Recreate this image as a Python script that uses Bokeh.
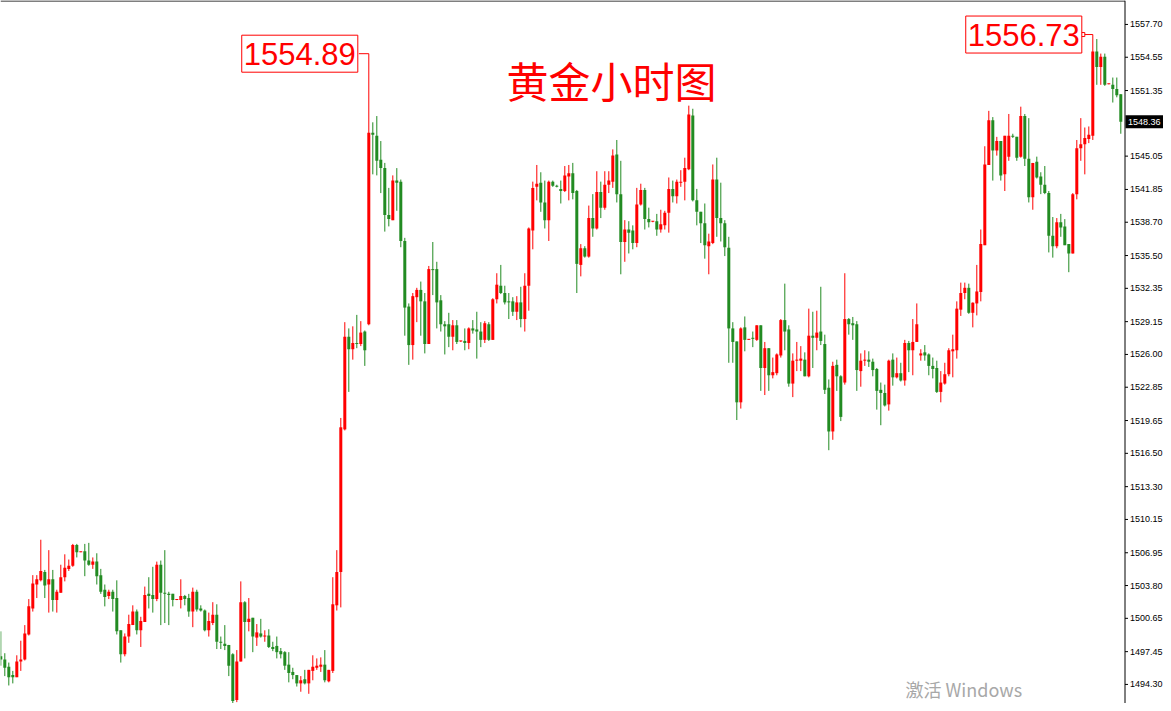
from bokeh.plotting import figure
from bokeh.models import Range1d, Label
from bokeh.core.properties import value
from bokeh.embed import file_html
from bokeh.resources import INLINE

# ---------------- data (hourly gold OHLC) ----------------
opens = [
    1497.0, 1496.7, 1496.0, 1495.2, 1495.0, 1496.5, 1496.7, 1499.1, 1501.6, 1503.9,
    1504.3, 1505.1, 1503.9, 1504.4, 1502.4, 1503.1, 1504.6, 1505.4, 1505.7, 1507.7,
    1507.0, 1507.1, 1506.2, 1505.8, 1506.1, 1504.8, 1503.4, 1502.8, 1503.2, 1502.6,
    1499.5, 1497.2, 1498.9, 1500.0, 1501.3, 1499.5, 1500.3, 1503.0, 1502.9, 1502.5,
    1505.8, 1503.1, 1503.0, 1503.0, 1502.4, 1502.4, 1502.8, 1502.6, 1501.3, 1503.2,
    1501.6, 1501.4, 1499.5, 1500.2, 1501.0, 1498.4, 1498.2, 1498.1, 1497.2, 1492.8,
    1496.5, 1502.2, 1500.3, 1500.7, 1498.8, 1499.2, 1498.9, 1499.0, 1497.9, 1498.0,
    1497.5, 1497.4, 1496.2, 1495.5, 1495.2, 1494.4, 1494.8, 1494.4, 1495.6, 1495.9,
    1496.0, 1496.2, 1494.6, 1495.6, 1501.9, 1505.1, 1518.8, 1527.7, 1526.5, 1527.1,
    1527.0, 1528.2, 1528.9, 1547.3, 1547.0, 1544.7, 1543.9, 1539.4, 1538.9, 1542.7,
    1542.6, 1536.9, 1530.6, 1526.9, 1531.5, 1532.2, 1531.1, 1527.0, 1534.2, 1534.2,
    1531.2, 1528.9, 1528.9, 1527.7, 1528.8, 1527.25, 1527.3, 1527.1, 1528.5, 1528.4,
    1528.2, 1527.4, 1528.9, 1527.4, 1531.3, 1532.6, 1531.9, 1531.1, 1531.1, 1530.1,
    1531.0, 1529.4, 1532.6, 1537.9, 1542.1, 1542.5, 1540.6, 1538.9, 1542.6, 1542.2,
    1541.9, 1541.7, 1543.1, 1543.4, 1541.7, 1534.6, 1536.2, 1535.4, 1539.1, 1538.1,
    1541.6, 1540.1, 1542.3, 1542.6, 1545.2, 1541.4, 1536.8, 1538.0, 1537.9, 1536.7,
    1540.4, 1541.8, 1539.0, 1538.75, 1538.8, 1538.0, 1538.4, 1539.6, 1541.9, 1541.2,
    1542.5, 1542.6, 1543.8, 1548.95, 1540.8, 1539.7, 1538.6, 1536.4, 1536.7, 1542.8,
    1539.1, 1538.6, 1536.25, 1528.5, 1527.25, 1521.4, 1528.6, 1527.4, 1527.6, 1527.4,
    1528.8, 1524.7, 1526.6, 1524.0, 1524.2, 1525.9, 1529.3, 1528.4, 1523.2, 1525.4,
    1525.4, 1525.5, 1523.9, 1527.8, 1527.6, 1528.2, 1527.0, 1522.8, 1518.6, 1525.0,
    1523.9, 1523.3, 1529.4, 1529.0, 1528.9, 1524.4, 1525.4, 1525.5, 1525.3, 1524.6,
    1522.6, 1522.3, 1521.2, 1525.5, 1523.8, 1524.2, 1523.5, 1527.1, 1526.4, 1527.2,
    1525.9, 1526.2, 1526.0, 1524.9, 1524.7, 1522.4, 1523.2, 1524.1, 1526.3, 1526.4,
    1530.3, 1531.9, 1532.4, 1530.0, 1530.9, 1532.0, 1536.5, 1544.2, 1548.5, 1545.6,
    1546.5, 1543.3, 1545.0, 1547.0, 1546.9, 1545.0, 1548.9, 1544.8, 1541.1, 1544.5,
    1543.1, 1542.3, 1541.5, 1537.4, 1536.4, 1538.7, 1538.3, 1536.6, 1535.7, 1541.4,
    1545.8, 1546.2, 1546.7, 1547.0, 1555.1, 1553.6, 1554.6, 1551.95, 1551.9, 1551.5,
    1551.0,
]
highs = [
    1499.4, 1497.3, 1496.4, 1495.6, 1497.1, 1498.5, 1500.0, 1502.5, 1504.8, 1504.8,
    1508.2, 1505.3, 1507.2, 1505.3, 1503.4, 1505.8, 1506.8, 1506.3, 1507.8, 1507.8,
    1507.05, 1507.8, 1507.9, 1506.5, 1506.9, 1505.4, 1503.9, 1503.4, 1503.4, 1504.3,
    1499.5, 1499.2, 1501.0, 1501.9, 1501.5, 1500.8, 1503.7, 1504.6, 1505.6, 1506.1,
    1506.2, 1507.2, 1503.2, 1503.0, 1502.45, 1504.4, 1502.9, 1503.0, 1503.6, 1503.4,
    1501.9, 1501.5, 1501.2, 1502.2, 1502.0, 1498.9, 1500.0, 1498.1, 1497.3, 1497.6,
    1504.2, 1502.3, 1502.6, 1500.7, 1500.1, 1500.6, 1499.5, 1499.6, 1498.4, 1498.9,
    1497.8, 1497.5, 1497.4, 1495.9, 1495.2, 1495.1, 1495.7, 1495.7, 1497.1, 1496.8,
    1496.9, 1497.6, 1495.7, 1504.6, 1507.2, 1519.9, 1529.1, 1528.5, 1528.7, 1529.8,
    1529.2, 1528.3, 1554.89, 1548.3, 1548.9, 1546.5, 1544.4, 1542.0, 1543.2, 1543.9,
    1542.8, 1537.2, 1530.9, 1531.9, 1532.4, 1533.0, 1531.9, 1534.5, 1536.8, 1534.9,
    1531.7, 1529.2, 1530.0, 1529.3, 1529.3, 1527.3, 1528.5, 1528.6, 1529.3, 1530.1,
    1529.1, 1529.2, 1529.1, 1531.4, 1533.8, 1534.6, 1532.6, 1531.9, 1531.5, 1531.6,
    1532.5, 1533.8, 1538.2, 1542.6, 1544.2, 1543.5, 1542.7, 1542.7, 1542.7, 1542.3,
    1542.7, 1544.1, 1544.2, 1544.4, 1541.8, 1536.6, 1536.4, 1540.3, 1541.4, 1543.6,
    1542.6, 1543.6, 1543.6, 1545.7, 1546.6, 1544.6, 1538.9, 1538.8, 1538.4, 1542.0,
    1542.4, 1542.0, 1540.1, 1538.8, 1539.5, 1539.9, 1539.8, 1543.0, 1542.7, 1542.8,
    1543.7, 1544.9, 1549.9, 1549.6, 1541.9, 1539.7, 1540.5, 1537.6, 1544.25, 1544.9,
    1542.5, 1538.9, 1537.3, 1529.1, 1527.25, 1528.6, 1529.65, 1527.45, 1528.2, 1528.8,
    1528.8, 1527.2, 1526.6, 1525.7, 1526.1, 1529.4, 1532.8, 1528.8, 1526.1, 1527.2,
    1526.8, 1526.2, 1530.4, 1530.1, 1530.2, 1532.5, 1527.9, 1523.6, 1525.3, 1525.5,
    1524.0, 1533.8, 1529.5, 1529.6, 1529.2, 1526.1, 1526.4, 1526.3, 1525.6, 1524.7,
    1523.3, 1523.1, 1525.5, 1526.1, 1525.7, 1525.2, 1527.4, 1527.3, 1529.4, 1530.9,
    1526.5, 1526.9, 1526.1, 1525.7, 1525.4, 1524.4, 1525.2, 1526.6, 1527.9, 1531.1,
    1532.9, 1532.9, 1532.8, 1531.0, 1534.6, 1538.0, 1546.0, 1549.4, 1548.8, 1546.9,
    1546.5, 1547.0, 1549.1, 1547.2, 1546.9, 1549.8, 1549.1, 1548.7, 1544.4, 1545.0,
    1543.5, 1544.1, 1541.7, 1539.2, 1539.1, 1539.5, 1539.0, 1536.6, 1541.5, 1546.6,
    1548.7, 1547.8, 1547.9, 1556.73, 1556.3, 1554.9, 1554.9, 1552.0, 1552.6, 1552.6,
    1551.0,
]
lows = [
    1496.1, 1495.1, 1494.2, 1494.4, 1495.0, 1495.6, 1496.6, 1499.0, 1501.3, 1502.6,
    1504.2, 1502.6, 1501.2, 1501.3, 1501.2, 1503.1, 1504.2, 1505.2, 1505.6, 1506.5,
    1507.0, 1504.7, 1505.7, 1505.4, 1503.9, 1503.0, 1501.8, 1502.5, 1501.3, 1499.1,
    1496.4, 1497.0, 1498.3, 1500.0, 1499.1, 1497.9, 1500.3, 1501.6, 1501.2, 1502.3,
    1500.0, 1500.2, 1500.0, 1501.8, 1502.4, 1501.6, 1501.9, 1500.8, 1499.8, 1501.3,
    1501.3, 1499.4, 1498.9, 1500.0, 1497.7, 1497.7, 1497.6, 1495.1, 1492.5, 1492.6,
    1496.5, 1496.8, 1499.4, 1497.4, 1498.0, 1498.8, 1498.4, 1497.8, 1497.5, 1496.8,
    1496.8, 1495.7, 1494.5, 1494.8, 1494.1, 1493.6, 1494.3, 1493.4, 1494.7, 1495.7,
    1495.5, 1494.5, 1494.5, 1495.4, 1501.4, 1501.7, 1518.7, 1522.4, 1525.5, 1526.6,
    1526.8, 1524.9, 1528.8, 1543.3, 1543.2, 1541.5, 1537.8, 1538.3, 1538.9, 1539.8,
    1536.3, 1527.8, 1525.0, 1525.5, 1529.1, 1527.8, 1526.1, 1527.0, 1531.7, 1528.5,
    1528.2, 1526.0, 1526.7, 1526.4, 1527.0, 1527.2, 1526.4, 1526.5, 1528.0, 1525.6,
    1526.7, 1527.1, 1527.3, 1527.4, 1530.9, 1531.8, 1530.8, 1529.4, 1529.7, 1529.3,
    1528.6, 1528.2, 1530.2, 1536.1, 1540.8, 1539.7, 1538.1, 1536.9, 1542.1, 1542.05,
    1540.5, 1541.6, 1540.8, 1540.9, 1531.9, 1533.5, 1535.3, 1535.3, 1537.3, 1538.0,
    1539.1, 1539.9, 1541.5, 1542.0, 1540.6, 1533.7, 1534.9, 1535.7, 1536.1, 1536.3,
    1540.3, 1538.0, 1538.2, 1538.7, 1537.4, 1537.7, 1538.0, 1537.7, 1540.6, 1540.5,
    1542.1, 1540.8, 1543.7, 1540.7, 1538.4, 1536.7, 1535.2, 1533.7, 1536.6, 1537.3,
    1536.85, 1535.45, 1525.2, 1525.2, 1519.7, 1520.8, 1526.3, 1527.4, 1526.7, 1527.3,
    1522.5, 1522.1, 1522.5, 1523.7, 1524.0, 1525.7, 1526.4, 1522.9, 1521.9, 1524.4,
    1524.4, 1523.9, 1523.8, 1524.7, 1526.4, 1526.9, 1522.2, 1516.8, 1517.8, 1522.5,
    1519.6, 1523.1, 1527.9, 1527.4, 1522.5, 1522.9, 1524.9, 1524.8, 1523.9, 1520.7,
    1519.2, 1521.0, 1520.6, 1523.0, 1523.7, 1523.4, 1523.0, 1524.3, 1524.0, 1527.2,
    1525.4, 1525.4, 1524.0, 1523.7, 1522.3, 1521.4, 1523.1, 1523.9, 1523.8, 1525.6,
    1529.7, 1531.3, 1529.9, 1528.6, 1529.75, 1531.1, 1536.5, 1544.2, 1542.7, 1545.1,
    1542.7, 1541.7, 1544.6, 1546.8, 1544.6, 1544.9, 1544.1, 1540.6, 1539.9, 1542.9,
    1541.4, 1541.4, 1535.8, 1535.3, 1536.2, 1537.3, 1536.5, 1533.9, 1535.7, 1540.9,
    1544.6, 1543.3, 1546.3, 1546.6, 1551.9, 1551.9, 1551.8, 1551.95, 1550.2, 1550.7,
    1547.2,
]
closes = [
    1496.7, 1495.9, 1495.0, 1495.0, 1496.5, 1496.7, 1499.2, 1501.8, 1504.0, 1504.4,
    1505.2, 1503.8, 1504.4, 1502.4, 1503.2, 1504.6, 1505.5, 1505.7, 1507.7, 1507.0,
    1507.05, 1506.2, 1505.8, 1506.1, 1504.7, 1503.2, 1502.7, 1503.2, 1502.5, 1499.4,
    1497.2, 1498.9, 1500.1, 1501.3, 1499.5, 1500.4, 1502.9, 1502.8, 1502.5, 1505.8,
    1503.1, 1503.0, 1502.9, 1502.4, 1502.45, 1502.8, 1502.5, 1501.3, 1503.2, 1501.5,
    1501.4, 1499.5, 1500.4, 1501.0, 1498.4, 1498.3, 1498.0, 1496.1, 1492.7, 1496.5,
    1502.2, 1500.3, 1500.6, 1498.9, 1499.3, 1498.9, 1499.0, 1497.9, 1497.7, 1497.4,
    1497.2, 1496.1, 1495.4, 1495.2, 1494.4, 1494.7, 1494.4, 1495.7, 1496.0, 1496.1,
    1496.2, 1494.7, 1495.7, 1502.0, 1505.1, 1519.0, 1527.7, 1526.5, 1527.1, 1527.0,
    1528.1, 1526.4, 1547.3, 1547.1, 1544.6, 1543.9, 1539.4, 1539.0, 1542.7, 1542.5,
    1536.9, 1530.5, 1526.9, 1531.6, 1532.2, 1531.1, 1527.0, 1534.2, 1534.1, 1531.0,
    1528.9, 1528.7, 1527.7, 1528.8, 1527.2, 1527.3, 1527.1, 1528.5, 1528.3, 1528.2,
    1527.4, 1529.0, 1527.4, 1531.3, 1532.7, 1531.9, 1531.0, 1531.0, 1530.1, 1531.0,
    1529.4, 1532.6, 1538.1, 1542.0, 1542.4, 1540.6, 1538.9, 1542.6, 1542.2, 1542.1,
    1541.7, 1543.2, 1543.4, 1541.5, 1534.7, 1536.2, 1535.4, 1539.1, 1538.1, 1541.6,
    1540.1, 1542.3, 1542.7, 1545.1, 1541.4, 1536.8, 1538.0, 1537.7, 1536.7, 1540.4,
    1541.8, 1539.0, 1538.7, 1538.8, 1538.0, 1538.5, 1539.6, 1541.9, 1541.2, 1542.6,
    1542.6, 1543.9, 1549.05, 1540.8, 1539.7, 1538.6, 1536.5, 1536.85, 1542.8, 1539.1,
    1538.6, 1536.3, 1528.5, 1527.2, 1521.4, 1528.5, 1527.4, 1527.45, 1527.5, 1528.8,
    1524.7, 1526.6, 1524.0, 1524.3, 1526.0, 1529.3, 1528.2, 1523.2, 1525.4, 1525.45,
    1525.6, 1523.9, 1527.8, 1527.6, 1528.1, 1527.3, 1522.6, 1518.6, 1524.9, 1523.9,
    1520.0, 1529.4, 1528.9, 1528.8, 1524.5, 1525.4, 1525.5, 1525.3, 1524.5, 1522.5,
    1522.3, 1521.1, 1525.4, 1523.8, 1524.2, 1523.5, 1527.1, 1526.4, 1527.2, 1528.9,
    1526.1, 1525.9, 1524.9, 1524.6, 1522.4, 1523.3, 1524.1, 1526.4, 1526.5, 1530.4,
    1531.9, 1532.4, 1530.0, 1530.97, 1532.05, 1536.6, 1544.25, 1548.5, 1545.6, 1546.5,
    1543.2, 1547.0, 1547.0, 1546.9, 1544.9, 1548.9, 1544.8, 1541.1, 1544.4, 1543.0,
    1542.3, 1541.5, 1537.4, 1536.4, 1538.7, 1538.2, 1536.5, 1535.7, 1541.4, 1545.8,
    1546.2, 1546.8, 1547.1, 1555.1, 1553.6, 1554.6, 1551.9, 1552.0, 1551.5, 1550.9,
    1548.36,
]
price_ticks = [1494.30, 1497.45, 1500.65, 1503.80, 1506.95, 1510.15, 1513.30,
               1516.50, 1519.65, 1522.85, 1526.00, 1529.15, 1532.35, 1535.50,
               1538.70, 1541.85, 1545.05, 1551.35, 1554.55, 1557.70]
title_text = "黄金小时图"
watermark_text = "激活 Windows"

# ---------------- layout constants (pixels) ----------------
FIG_W, FIG_H = 1163, 703
BAR_PX = 4.0          # horizontal pixels per hourly bar
PX_PER_USD = 10.41    # vertical pixels per price unit
AXIS_PX = 1124.5      # x pixel of the price-scale line
UP, DOWN = "#ff0000", "#228b22"

x_start = -0.3 / BAR_PX
x_end = x_start + FIG_W / BAR_PX
y_end = 1560.0
y_start = y_end - FIG_H / PX_PER_USD
axis_x = x_start + AXIS_PX / BAR_PX

n = len(closes)
xs = list(range(n))

p = figure(width=FIG_W, height=FIG_H, output_backend="svg", toolbar_location=None,
           x_range=Range1d(x_start, x_end), y_range=Range1d(y_start, y_end),
           x_axis_location=None, y_axis_location=None,
           min_border=0)
p.grid.visible = False
p.outline_line_color = None
p.background_fill_color = "white"
p.border_fill_color = "white"

# ---------------- candles ----------------
colors = [UP if c >= o else DOWN for o, c in zip(opens, closes)]
tops, bots = [], []
for o, c in zip(opens, closes):
    t, b = max(o, c), min(o, c)
    if t - b < 0.1:
        t = b + 0.1
    tops.append(t)
    bots.append(b)

p.segment(x0=xs, y0=highs, x1=xs, y1=lows, line_color=colors, line_width=1)
p.vbar(x=xs, top=tops, bottom=bots, width=0.75, fill_color=colors, line_color=None)

# ---------------- price scale on the right (MT4 style) ----------------
top_edge = y_end - 0.5 / PX_PER_USD
p.segment(x0=[x_start], y0=[top_edge], x1=[axis_x], y1=[top_edge], line_color="black", line_width=1)
p.segment(x0=[axis_x], y0=[y_start], x1=[axis_x], y1=[y_end], line_color="black", line_width=1)
p.segment(x0=[axis_x] * len(price_ticks), y0=price_ticks,
          x1=[axis_x + 3 / BAR_PX] * len(price_ticks), y1=price_ticks,
          line_color="black", line_width=1)
p.text(x=[axis_x + 5 / BAR_PX] * len(price_ticks), y=price_ticks,
       text=[f"{t:.2f}" for t in price_ticks],
       text_align="left", text_baseline="middle",
       text_font=value("Liberation Sans"), text_font_size=value("9px"), text_color="black")

# current price tag
tag_w = (x_end - axis_x) * BAR_PX
p.rect(x=[(axis_x + x_end) / 2 + 0.5 / BAR_PX], y=[closes[-1]], width=tag_w, height=13,
       width_units="screen", height_units="screen", fill_color="black", line_color=None)
p.text(x=[axis_x + 3 / BAR_PX], y=[closes[-1]], text=[f"{closes[-1]:.2f}"],
       text_align="left", text_baseline="middle",
       text_font=value("Liberation Sans"), text_font_size=value("9px"), text_color="white")

# ---------------- high-price callouts ----------------
first_part = 200
i1 = max(range(first_part), key=lambda i: highs[i])
i2 = max(range(n), key=lambda i: highs[i])
gap = 2.5
for i in (i1, i2):
    p.segment(x0=[i - gap], y0=[highs[i]], x1=[i], y1=[highs[i]], line_color=UP, line_width=1)
    p.add_layout(Label(x=i, y=highs[i], x_offset=-11, text=f"{highs[i]:.2f}",
                       text_align="right", text_baseline="middle",
                       text_font="Liberation Sans", text_font_size="31px", text_color=UP,
                       border_line_color=UP, border_line_width=1,
                       background_fill_color="white",
                       padding=dict(left=2, right=2, top=8, bottom=7)))
p.scatter(x=[i2 - gap], y=[highs[i2]], marker="square", size=4,
          fill_color="white", line_color=UP, line_width=1)

# ---------------- title & watermark ----------------
p.add_layout(Label(x=611, y=FIG_H - 79, x_units="screen", y_units="screen", text=title_text,
                   text_align="center", text_baseline="middle",
                   text_font="Noto Sans CJK SC", text_font_size="42px", text_color=UP))
p.add_layout(Label(x=905, y=28, x_units="screen", y_units="screen", text=watermark_text,
                   text_align="left", text_baseline="top",
                   text_font="Noto Sans CJK SC", text_font_size="18px", text_color="#a8a8a8"))

open("out.html", "w").write(file_html(p, INLINE))
